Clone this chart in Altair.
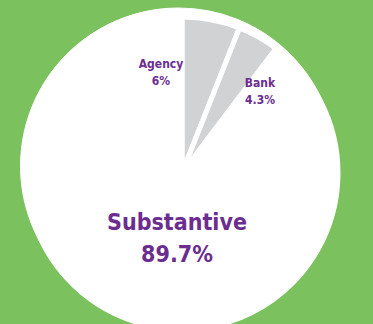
import altair as alt
import pandas as pd

categories = ["Agency", "Bank", "Substantive"]
values = [6.0, 4.3, 89.7]
pct_labels = ["6%", "4.3%", "89.7%"]
slice_colors = ["#D1D2D4", "#D1D2D4", "#FFFFFF"]

df = pd.DataFrame({"category": categories, "value": values, "order": [0, 1, 2]})

FONT = "DejaVu Sans Condensed, Roboto, sans-serif"
PURPLE = "#6B2D90"
GREEN = "#7BC15E"

enc = dict(theta=alt.Theta("value:Q", stack=True), order=alt.Order("order:Q"))

bg = alt.Chart(df).mark_arc(outerRadius=158, color="#FFFFFF", stroke="#FFFFFF", strokeWidth=1).encode(
    x=alt.value(178.5), y=alt.value(166), **enc
)
slices = alt.Chart(df).mark_arc(outerRadius=156, stroke="#FFFFFF", strokeWidth=5).encode(
    x=alt.value(182), y=alt.value(173),
    color=alt.Color("category:N", scale=alt.Scale(domain=categories, range=slice_colors), legend=None),
    **enc
)

def label(i, x, y, size, lh):
    return alt.Chart(pd.DataFrame({"t": [[categories[i], pct_labels[i]]]})).mark_text(
        font=FONT, fontWeight="bold", fontSize=size, color=PURPLE, align="center",
        baseline="alphabetic", lineHeight=lh
    ).encode(text="t:N", x=alt.value(x), y=alt.value(y))

lab_a = label(0, 161, 68, 12, 17)
lab_b = label(1, 260, 87, 12, 17)
lab_s = label(2, 177, 230, 23, 32)

chart = alt.layer(bg, slices, lab_a, lab_b, lab_s).properties(
    width=373, height=324, background=GREEN,
    autosize=alt.AutoSizeParams(type="none"), padding=0
).configure_view(stroke=None)

chart.save("out.html", embed_options={"renderer": "svg", "actions": False})
